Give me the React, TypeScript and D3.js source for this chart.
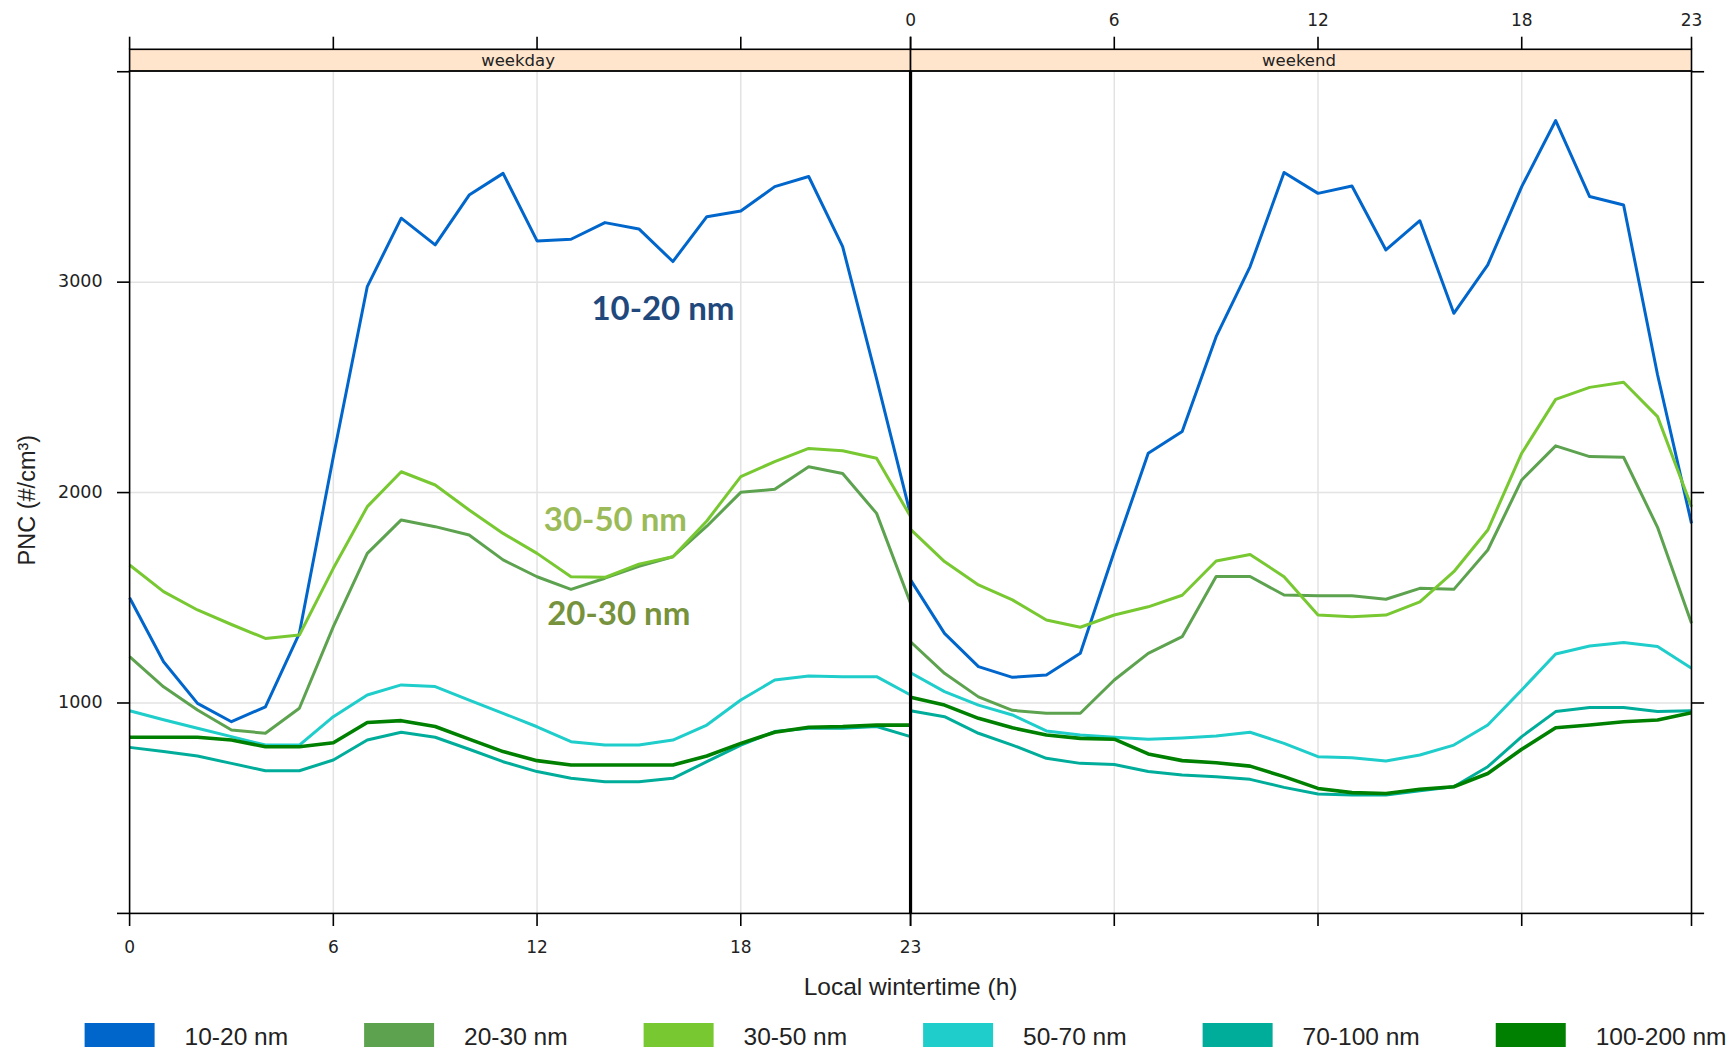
import React from "react";
import * as d3 from "d3";

// Hour of day (local wintertime)
const hours = [0, 1, 2, 3, 4, 5, 6, 7, 8, 9, 10, 11, 12, 13, 14, 15, 16, 17, 18, 19, 20, 21, 22, 23];

// Panels
const panels = ["weekday", "weekend"];

// Size classes
const sizeClasses = ["10-20 nm", "20-30 nm", "30-50 nm", "50-70 nm", "70-100 nm", "100-200 nm"];
const classColors = ["#0066CC", "#5DA34F", "#78C832", "#1FCDCB", "#00AD9B", "#008000"];
const classWidths = [3, 3, 3, 3, 3, 3.6];

// Mean particle number concentration (#/cm3), weekday
const weekday1020 = [1500, 1196, 998, 911, 982, 1331, 2170, 2979, 3304, 3177, 3414, 3517, 3196, 3204, 3283, 3253, 3098, 3311, 3338, 3454, 3502, 3169, 2540, 1895];
const weekday2030 = [1220, 1077, 967, 872, 856, 975, 1363, 1711, 1870, 1838, 1798, 1680, 1600, 1540, 1593, 1650, 1695, 1840, 2001, 2016, 2123, 2091, 1901, 1474];
const weekday3050 = [1656, 1529, 1442, 1373, 1307, 1323, 1640, 1933, 2099, 2036, 1917, 1806, 1711, 1600, 1597, 1660, 1695, 1865, 2076, 2147, 2210, 2199, 2163, 1886];
const weekday5070 = [963, 920, 880, 840, 800, 800, 935, 1038, 1086, 1078, 1014, 951, 887, 816, 800, 800, 824, 895, 1014, 1109, 1128, 1125, 1125, 1038];
const weekday70100 = [789, 769, 748, 713, 678, 678, 729, 824, 861, 837, 780, 721, 674, 642, 626, 626, 642, 721, 800, 864, 880, 880, 888, 840];
const weekday100200 = [837, 837, 837, 824, 792, 792, 811, 907, 916, 888, 828, 769, 726, 705, 705, 705, 705, 748, 808, 861, 885, 888, 895, 895];

// Mean particle number concentration (#/cm3), weekend
const weekend1020 = [1585, 1331, 1173, 1122, 1133, 1236, 1720, 2187, 2290, 2741, 3074, 3521, 3422, 3457, 3153, 3292, 2852, 3082, 3454, 3768, 3407, 3367, 2560, 1854];
const weekend2030 = [1291, 1141, 1029, 965, 951, 951, 1109, 1236, 1315, 1601, 1601, 1513, 1510, 1510, 1493, 1545, 1540, 1727, 2060, 2222, 2171, 2168, 1835, 1379];
const weekend3050 = [1825, 1672, 1561, 1490, 1394, 1360, 1418, 1457, 1512, 1675, 1706, 1600, 1418, 1410, 1418, 1481, 1624, 1822, 2187, 2443, 2500, 2524, 2361, 1933];
const weekend5070 = [1144, 1054, 990, 943, 867, 848, 837, 828, 834, 843, 861, 808, 745, 740, 724, 753, 800, 895, 1062, 1233, 1271, 1287, 1268, 1165];
const weekend70100 = [963, 935, 856, 800, 737, 713, 708, 674, 658, 650, 637, 599, 567, 563, 563, 583, 602, 697, 840, 959, 979, 979, 959, 963];
const weekend100200 = [1027, 990, 927, 882, 848, 832, 828, 758, 726, 716, 700, 650, 594, 574, 570, 590, 602, 665, 780, 882, 895, 911, 919, 954];

const weekdaySeries = [weekday1020, weekday2030, weekday3050, weekday5070, weekday70100, weekday100200];
const weekendSeries = [weekend1020, weekend2030, weekend3050, weekend5070, weekend70100, weekend100200];

// Axis ticks
const xTicks = [0, 6, 12, 18, 23];
const xTickLabels = ["0", "6", "12", "18", "23"];
const yTicks = [0, 1000, 2000, 3000, 4000];
const yTickLabels = ["", "1000", "2000", "3000", ""];
const yMax = 4004;

// In-plot callouts: label, hour, concentration at the text baseline, colour
const calloutLabels = ["10-20 nm", "30-50 nm", "20-30 nm"];
const calloutHours = [13.6, 12.2, 12.3];
const calloutValues = [2820, 1819, 1371];
const calloutColors = ["#1F497D", "#9BBB59", "#76923C"];

const W = 1736;
const H = 1052;
const left = 129.6;
const right = 1691.5;
const top = 70.9;
const bottom = 913.4;
const stripH = 21.6;
const tickLen = 12.6;

const tickFont = "'DejaVu Sans', Verdana, sans-serif";
const labelFont = "'Liberation Sans', Arial, sans-serif";

function measure(text: string, font: string) {
  const c = document.createElement("canvas").getContext("2d");
  if (!c) return text.length * 12;
  c.font = font;
  return c.measureText(text).width;
}

export default function App() {
  const panelBand = d3.scaleBand<string>().domain(panels).range([left, right]).padding(0);
  const y = d3.scaleLinear().domain([0, yMax]).range([bottom, top]);
  const xScales = panels.map((p) => {
    const x0 = panelBand(p) as number;
    return d3.scaleLinear().domain([0, 23]).range([x0, x0 + panelBand.bandwidth()]);
  });
  const seriesByPanel = [weekdaySeries, weekendSeries];

  // legend layout
  const legendFontSize = 24.5;
  const swatchW = 70;
  const swatchH = 24;
  const swatchGap = 30;
  const colGap = 76;
  const textWidths = sizeClasses.map((s) => measure(s, `${legendFontSize}px ${labelFont}`));
  const itemWidths = textWidths.map((w) => swatchW + swatchGap + w);
  const legendTotal = d3.sum(itemWidths) + colGap * (sizeClasses.length - 1);
  const legendCenter = (left + right) / 2 - 5;
  let cursor = legendCenter - legendTotal / 2;
  const legendX = itemWidths.map((w) => {
    const x = cursor;
    cursor += w + colGap;
    return x;
  });
  const legendTop = 1023;

  return (
    <svg
      width={W}
      height={H}
      style={{ position: "absolute", left: 0, top: 0, background: "#fff" }}
      xmlns="http://www.w3.org/2000/svg"
    >
      <rect x={0} y={0} width={W} height={H} fill="#fff" />
      {panels.map((p, pi) => {
        const x = xScales[pi];
        const x0 = x.range()[0];
        const x1 = x.range()[1];
        const line = d3
          .line<number>()
          .x((_, i) => x(hours[i]))
          .y((v) => y(v));
        return (
          <g key={p}>
            {/* grid */}
            {xTicks.slice(1, 4).map((t) => (
              <line key={"gx" + t} x1={x(t)} x2={x(t)} y1={top} y2={bottom} stroke="#E3E3E3" strokeWidth={1.5} />
            ))}
            {yTicks.slice(1, 4).map((t) => (
              <line key={"gy" + t} x1={x0} x2={x1} y1={y(t)} y2={y(t)} stroke="#E3E3E3" strokeWidth={1.5} />
            ))}
            {/* series */}
            {seriesByPanel[pi].map((vals, si) => (
              <path
                key={sizeClasses[si]}
                d={line(vals) || ""}
                fill="none"
                stroke={classColors[si]}
                strokeWidth={classWidths[si]}
                strokeLinejoin="round"
              />
            ))}
            {/* panel border */}
            <rect x={x0} y={top} width={x1 - x0} height={bottom - top} fill="none" stroke="#000" strokeWidth={1.6} />
            {/* strip */}
            <rect x={x0} y={top - stripH} width={x1 - x0} height={stripH} fill="#FFE5CC" stroke="#000" strokeWidth={1.6} />
            <text
              x={(x0 + x1) / 2 - 2}
              y={top - 5}
              textAnchor="middle"
              fontFamily={tickFont}
              fontSize={16.5}
              fill="#222"
            >
              {p}
            </text>
            {/* bottom ticks */}
            {xTicks.map((t, i) => (
              <g key={"bt" + t}>
                <line x1={x(t)} x2={x(t)} y1={bottom} y2={bottom + tickLen} stroke="#000" strokeWidth={1.6} />
                {pi === 0 && (
                  <text x={x(t)} y={bottom + 34.5} textAnchor="middle" dominantBaseline="middle" fontFamily={tickFont} fontSize={17} fill="#222">
                    {xTickLabels[i]}
                  </text>
                )}
              </g>
            ))}
            {/* top ticks */}
            {xTicks.map((t, i) => (
              <g key={"tt" + t}>
                <line x1={x(t)} x2={x(t)} y1={top - stripH} y2={top - stripH - tickLen} stroke="#000" strokeWidth={1.6} />
                {pi === 1 && (
                  <text x={x(t)} y={20.5} textAnchor="middle" dominantBaseline="middle" fontFamily={tickFont} fontSize={17} fill="#222">
                    {xTickLabels[i]}
                  </text>
                )}
              </g>
            ))}
          </g>
        );
      })}

      {/* thick divider between panels */}
      <line x1={xScales[1](0)} x2={xScales[1](0)} y1={top} y2={bottom} stroke="#000" strokeWidth={3.2} />

      {/* y axis ticks, left labelled, right unlabelled */}
      {yTicks.map((t, i) => (
        <g key={"yt" + t}>
          <line x1={left - tickLen} x2={left} y1={y(t)} y2={y(t)} stroke="#000" strokeWidth={1.6} />
          <line x1={right} x2={right + tickLen} y1={y(t)} y2={y(t)} stroke="#000" strokeWidth={1.6} />
          {yTickLabels[i] && (
            <text x={left - 27} y={y(t)} textAnchor="end" dominantBaseline="middle" fontFamily={tickFont} fontSize={17.5} fill="#222">
              {yTickLabels[i]}
            </text>
          )}
        </g>
      ))}

      {/* callouts */}
      {calloutLabels.map((lab, i) => (
        <text
          key={lab}
          x={xScales[0](calloutHours[i])}
          y={y(calloutValues[i])}
          fontFamily="Lato, 'Open Sans', sans-serif"
          fontWeight={700}
          fontSize={33}
          fill={calloutColors[i]}
        >
          {lab}
        </text>
      ))}

      {/* axis titles */}
      <text x={(left + right) / 2} y={995} textAnchor="middle" fontFamily={labelFont} fontSize={24.5} fill="#222">
        Local wintertime (h)
      </text>
      <text
        transform={`translate(35, ${(top + bottom) / 2 + 8}) rotate(-90)`}
        textAnchor="middle"
        fontFamily={labelFont}
        fontSize={23.5}
        fill="#222"
      >
        PNC (#/cm³)
      </text>

      {/* legend */}
      {sizeClasses.map((s, i) => (
        <g key={"lg" + s}>
          <rect x={legendX[i]} y={legendTop} width={swatchW} height={swatchH} fill={classColors[i]} />
          <text
            x={legendX[i] + swatchW + swatchGap}
            y={legendTop + 22}
            fontFamily={labelFont}
            fontSize={legendFontSize}
            fill="#222"
          >
            {s}
          </text>
        </g>
      ))}
    </svg>
  );
}
